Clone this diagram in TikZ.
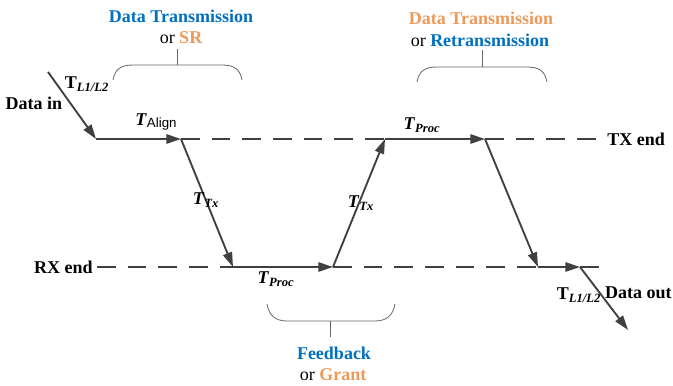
\documentclass[tikz,border=0pt]{standalone}
\usepackage{fontspec}
\setmainfont{Liberation Serif}
\setsansfont{Liberation Sans}
\newfontfamily\serf{Liberation Serif}
\usetikzlibrary{arrows.meta}
\definecolor{lblue}{RGB}{0,112,192}
\definecolor{lorange}{RGB}{237,153,90}
\definecolor{lgray}{RGB}{64,64,64}
\newcommand{\tsub}[1]{\textbf{\textit{T}}\textsubscript{\textbf{\textit{#1}}}}
\begin{document}
\begin{tikzpicture}[x=0.75pt,y=-0.75pt,
 lbl/.style={font=\serf\fontsize{13.5}{15}\selectfont\bfseries, text=black, inner sep=0pt},
 sig/.style={draw=lgray, line width=1.4pt},
 arr/.style={sig, -{Triangle[length=11pt,width=7pt]}},
 dsh/.style={draw=lgray, line width=1.4pt, dash pattern=on 14pt off 9pt},
 brace/.style={draw=lgray!80, line width=0.6pt},
]
\useasboundingbox (0,0) rectangle (673,385);
% points
\coordinate (din) at (48,72);
\coordinate (a) at (96,139);
\coordinate (b) at (181,139);
\coordinate (c) at (233,267);
\coordinate (d) at (333,267);
\coordinate (e) at (385,139);
\coordinate (f) at (485,139);
\coordinate (g) at (538,267);
\coordinate (h) at (580,267);
\coordinate (dout) at (628,330);
\coordinate (txe) at (599,139);
\coordinate (rxs) at (97,267);
\coordinate (rxe) at (607,267);
% dashed lines
\draw[dsh] (b) -- (e);
\draw[dsh] (f) -- (txe);
\draw[dsh] (rxs) -- (c);
\draw[dsh] (d) -- (g);
\draw[dsh] (h) -- (rxe);
% arrows
\draw[arr] (din) -- (a);
\draw[arr] (a) -- (b);
\draw[arr] (b) -- (c);
\draw[arr] (c) -- (d);
\draw[arr] (d) -- (e);
\draw[arr] (e) -- (f);
\draw[arr] (f) -- (g);
\draw[arr] (g) -- (h);
\draw[arr] (h) -- (dout);
% braces
\draw[brace] (113,80) .. controls (115,69) and (121,65) .. (133,65) -- (222,65) .. controls (234,65) and (240,69) .. (242,80);
\draw[brace] (177,65) -- (177,49);
\draw[brace] (417,82) .. controls (419,71) and (425,67) .. (437,67) -- (527,67) .. controls (539,67) and (545,71) .. (547,82);
\draw[brace] (482,67) -- (482,50);
\draw[brace] (267,304) .. controls (269,315) and (275,321) .. (287,321) -- (375,321) .. controls (387,321) and (393,315) .. (395,304);
\draw[brace] (330,321) -- (330,337);
% labels
\node[lbl, text=lblue] (dt1) at (181,16) {Data Transmission};
\node[lbl] (or1) at (181,38) {\mdseries or \bfseries\color{lorange}SR};
\node[lbl, text=lorange] (dt2) at (481,18) {Data Transmission};
\node[lbl] (or2) at (480,40) {\mdseries or \bfseries\color{lblue}Retransmission};
\node[lbl, text=lblue] (fb) at (334,353) {Feedback};
\node[lbl] (gr) at (333,375) {\mdseries or \bfseries\color{lorange}Grant};
\node[lbl] (tl1) at (87,84) {T\textsubscript{\textit{L1/L2}}};
\node[lbl] (datain) at (34,103) {Data in};
\node[lbl] (talign) at (156,122) {\textit{T}\raisebox{-1pt}{\sffamily\mdseries\fontsize{10}{12}\selectfont Align}};
\node[lbl] (ttx1) at (206,200) {\tsub{Tx}};
\node[lbl] (tproc1) at (276,279) {\tsub{Proc}};
\node[lbl] (ttx2) at (361,203) {\tsub{Tx}};
\node[lbl] (tproc2) at (422,125) {\tsub{Proc}};
\node[lbl, anchor=west] (txend) at (607,139) {TX end};
\node[lbl, anchor=east] (rxend) at (93,267) {RX end};
\node[lbl] (tl2) at (579,295) {T\textsubscript{\textit{L1/L2}}};
\node[lbl, anchor=east] (dataout) at (672,293) {Data out};
\end{tikzpicture}
\end{document}
